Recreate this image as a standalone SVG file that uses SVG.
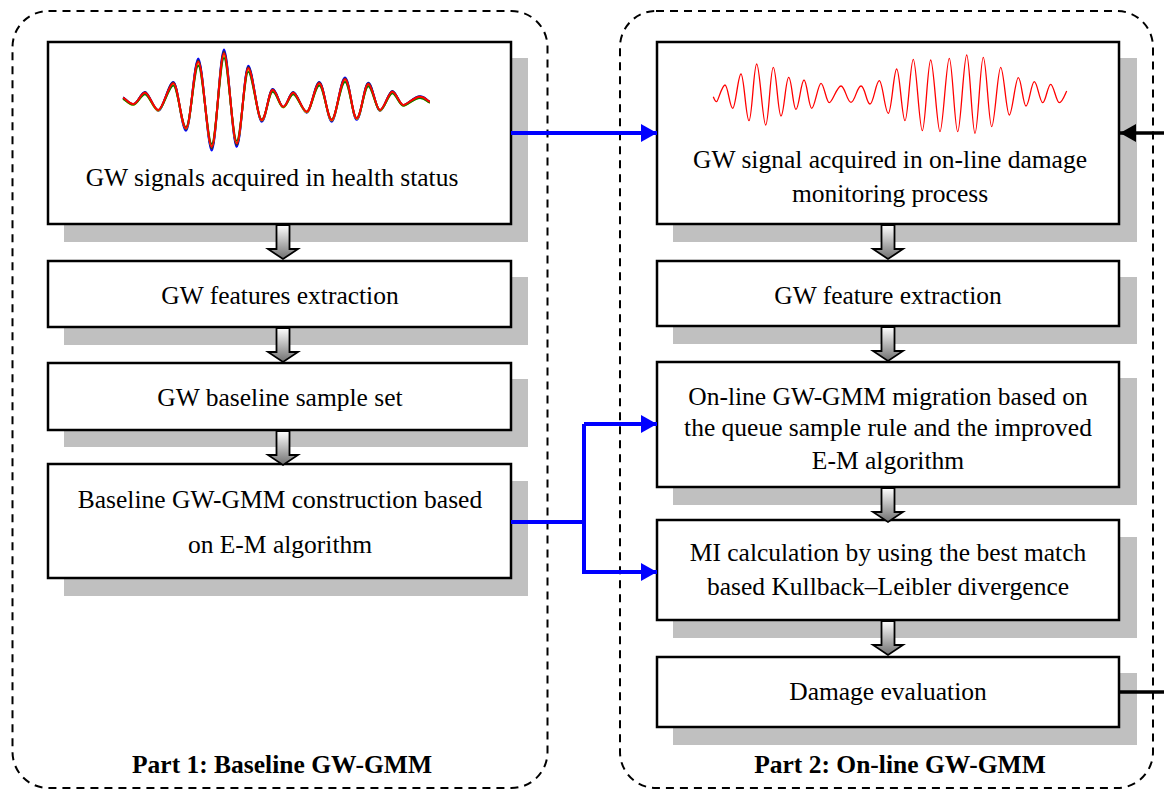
<svg xmlns="http://www.w3.org/2000/svg" width="1164" height="789" viewBox="0 0 1164 789">
<style>
.box{fill:#fff;stroke:#000;stroke-width:2.5}
.sh{fill:#c0c0c0}
.t{font-family:"Liberation Serif","Times New Roman",serif;font-size:25.5px;fill:#000;text-anchor:middle}
.lbl{font-family:"Liberation Serif","Times New Roman",serif;font-size:25.5px;font-weight:bold;fill:#000;text-anchor:middle}
.cont{fill:none;stroke:#000;stroke-width:2;stroke-dasharray:8,6}
.blue{fill:none;stroke:#0000ff;stroke-width:4}
.blk{fill:none;stroke:#000;stroke-width:3.5}
.wv{fill:none;stroke-width:2;stroke-linejoin:round}
</style>
<defs>
<linearGradient id="g" x1="0" y1="0" x2="0" y2="1">
<stop offset="0" stop-color="#ffffff"/>
<stop offset="1" stop-color="#707070"/>
</linearGradient>
<path id="da" d="M-6.5,0 L6.5,0 L6.5,24 L15,24 L0,34 L-15,24 L-6.5,24 Z" fill="url(#g)" stroke="#000" stroke-width="1.8" stroke-linejoin="miter"/>
<marker id="mb" markerWidth="16" markerHeight="18" refX="16" refY="9" orient="auto" markerUnits="userSpaceOnUse">
<path d="M0,0 L16,9 L0,18 Z" fill="#0000ff"/>
</marker>
<marker id="mk" markerWidth="16" markerHeight="18" refX="16" refY="9" orient="auto" markerUnits="userSpaceOnUse">
<path d="M0,0 L16,9 L0,18 Z" fill="#000"/>
</marker>
<path id="w1" d="M123,97.7 C126,99 129,104 133.3,104 S141,92.7 145,92.7 S153.8,110 158.3,110 S168.8,83.3 173.3,83.3 S181.5,128.3 186,128.3 S194,61.7 198.3,61.7 S207.5,146.7 211.7,146.7 S220,53.3 224,53.3 S232.5,143.3 236.7,143.3 S244.3,68.3 248.3,68.3 S257.5,120 261.7,120 S268.7,90 272.7,90 S279.5,106.7 283.3,106.7 S289.5,92.7 293.3,92.7 S302.5,111.7 306.7,111.7 S315,83.3 319.3,83.3 S327.5,120 331.7,120 S340.5,79.3 345,79.3 S352.5,118.3 356.7,118.3 S364.3,84 368.3,84 S376,110 380,110 S388.5,91.7 392.3,91.7 S399.5,105 403.3,105 S414,96.7 420,96.7 S427,101.7 430,101.7"/>
</defs>

<!-- containers -->
<g id="part1">
<rect class="cont" x="12.5" y="11" width="535" height="777" rx="36" ry="36"/>
<text class="lbl" x="282" y="773">Part 1: Baseline GW-GMM</text>
</g>
<g id="part2">
<rect class="cont" x="620" y="11" width="533" height="777" rx="36" ry="36"/>
<text class="lbl" x="900" y="773">Part 2: On-line GW-GMM</text>
</g>

<!-- left column -->
<g id="n1">
<rect class="sh" x="64" y="58" width="464" height="184"/>
<rect class="box" x="48" y="42" width="463" height="182"/>
<g transform="translate(0,100) scale(1,1.08) translate(0,-100)"><use href="#w1" class="wv" stroke="#0000ff"/></g>
<g transform="translate(0,100) scale(1,1.04) translate(0,-100)"><use href="#w1" class="wv" stroke="#333"/></g>
<g transform="translate(0,101) scale(1,0.97) translate(0,-100)"><use href="#w1" class="wv" stroke="#d8c800"/></g>
<g transform="translate(0,101) scale(1,0.92) translate(0,-100)"><use href="#w1" class="wv" stroke="#008000"/></g>
<use href="#w1" class="wv" stroke="#ff0000"/>
<text class="t" x="272" y="186">GW signals acquired in health status</text>
</g>
<g id="n2">
<rect class="sh" x="64" y="277" width="464" height="68"/>
<rect class="box" x="48" y="261" width="463" height="66"/>
<text class="t" x="280" y="304">GW features extraction</text>
</g>
<g id="n3">
<rect class="sh" x="64" y="379" width="464" height="68"/>
<rect class="box" x="48" y="363" width="463" height="67"/>
<text class="t" x="280" y="406">GW baseline sample set</text>
</g>
<g id="n4">
<rect class="sh" x="64" y="481" width="464" height="115"/>
<rect class="box" x="48" y="464" width="463" height="114"/>
<text class="t" x="280" y="508">Baseline GW-GMM construction based</text>
<text class="t" x="280" y="553">on E-M algorithm</text>
</g>

<!-- right column -->
<g id="m1">
<rect class="sh" x="673" y="58" width="464" height="184"/>
<rect class="box" x="657" y="42" width="462" height="182"/>
<path fill="none" stroke="#ff0000" stroke-width="1.3" d="M713.3,96.7 C714.5,100 715.5,101.7 716.7,101.7 S722,85 725,85 S729.7,108.3 732.7,108.3 S738,74 741,74 S746,120.7 749,120.7 S753.7,64 756.7,64 S762.7,125 765.7,125 S770.3,67.3 773.3,67.3 S778,116 781,116 S785.7,77.3 788.7,77.3 S793,109.3 796,109.3 S801,80 804,80 S808.7,108.3 811.7,108.3 S818,83.3 821,83.3 S826.3,102.7 829.3,102.7 S837,86 841,86 S847,102.3 851,102.3 S857,86 861,86 S866.5,104 870,104 S876,80.7 879.3,80.7 S885,113.3 888.3,113.3 S893.7,69 896.7,69 S902,120.7 905,120.7 S910.3,59.3 913.3,59.3 S919.3,130.7 922.3,130.7 S927.7,60 930.7,60 S937,131.7 940,131.7 S946.3,58.3 949.3,58.3 S954.7,131.7 957.7,131.7 S963.7,55 966.7,55 S972,133.3 975,133.3 S980.3,57.3 983.3,57.3 S988.7,126.7 991.7,126.7 S997.7,67.3 1000.7,67.3 S1006.3,115 1009.3,115 S1015.3,77.7 1018.3,77.7 S1023,106 1026,106 S1031.3,81.7 1034.3,81.7 S1039.7,102.7 1042.7,102.7 S1047.7,84.3 1050.7,84.3 S1056.3,102.7 1059.3,102.7 S1065.5,93 1066.7,91"/>
<text class="t" x="890" y="168">GW signal acquired in on-line damage</text>
<text class="t" x="890" y="202">monitoring process</text>
</g>
<g id="m2">
<rect class="sh" x="673" y="277" width="464" height="67"/>
<rect class="box" x="657" y="261" width="462" height="65"/>
<text class="t" x="888" y="304">GW feature extraction</text>
</g>
<g id="m3">
<rect class="sh" x="673" y="378" width="464" height="127"/>
<rect class="box" x="657" y="362" width="462" height="125"/>
<text class="t" x="888" y="405">On-line GW-GMM migration based on</text>
<text class="t" x="888" y="436">the queue sample rule and the improved</text>
<text class="t" x="888" y="469">E-M algorithm</text>
</g>
<g id="m4">
<rect class="sh" x="673" y="537" width="464" height="101"/>
<rect class="box" x="657" y="520" width="462" height="100"/>
<text class="t" x="888" y="561">MI calculation by using the best match</text>
<text class="t" x="888" y="595">based Kullback–Leibler divergence</text>
</g>
<g id="m5">
<rect class="sh" x="673" y="673" width="464" height="72"/>
<rect class="box" x="657" y="657" width="462" height="70"/>
<text class="t" x="888" y="700">Damage evaluation</text>
</g>

<!-- connectors -->
<g id="connectors">
<use href="#da" x="283" y="225"/>
<use href="#da" x="283" y="328"/>
<use href="#da" x="283" y="431"/>
<use href="#da" x="888" y="225"/>
<use href="#da" x="888" y="327"/>
<use href="#da" x="888" y="488"/>
<use href="#da" x="888" y="621"/>
<path class="blue" d="M511,133 L657,133" marker-end="url(#mb)"/>
<path class="blue" d="M511,522 L584,522"/>
<path class="blue" d="M584,424 L657,424" marker-end="url(#mb)"/>
<path class="blue" d="M584,522 L584,572 L657,572" marker-end="url(#mb)"/>
<path class="blue" d="M584,522 L584,424"/>
<path class="blk" d="M1164,133 L1120,133" marker-end="url(#mk)"/>
<path class="blk" d="M1119,692 L1164,692"/>
</g>
</svg>
